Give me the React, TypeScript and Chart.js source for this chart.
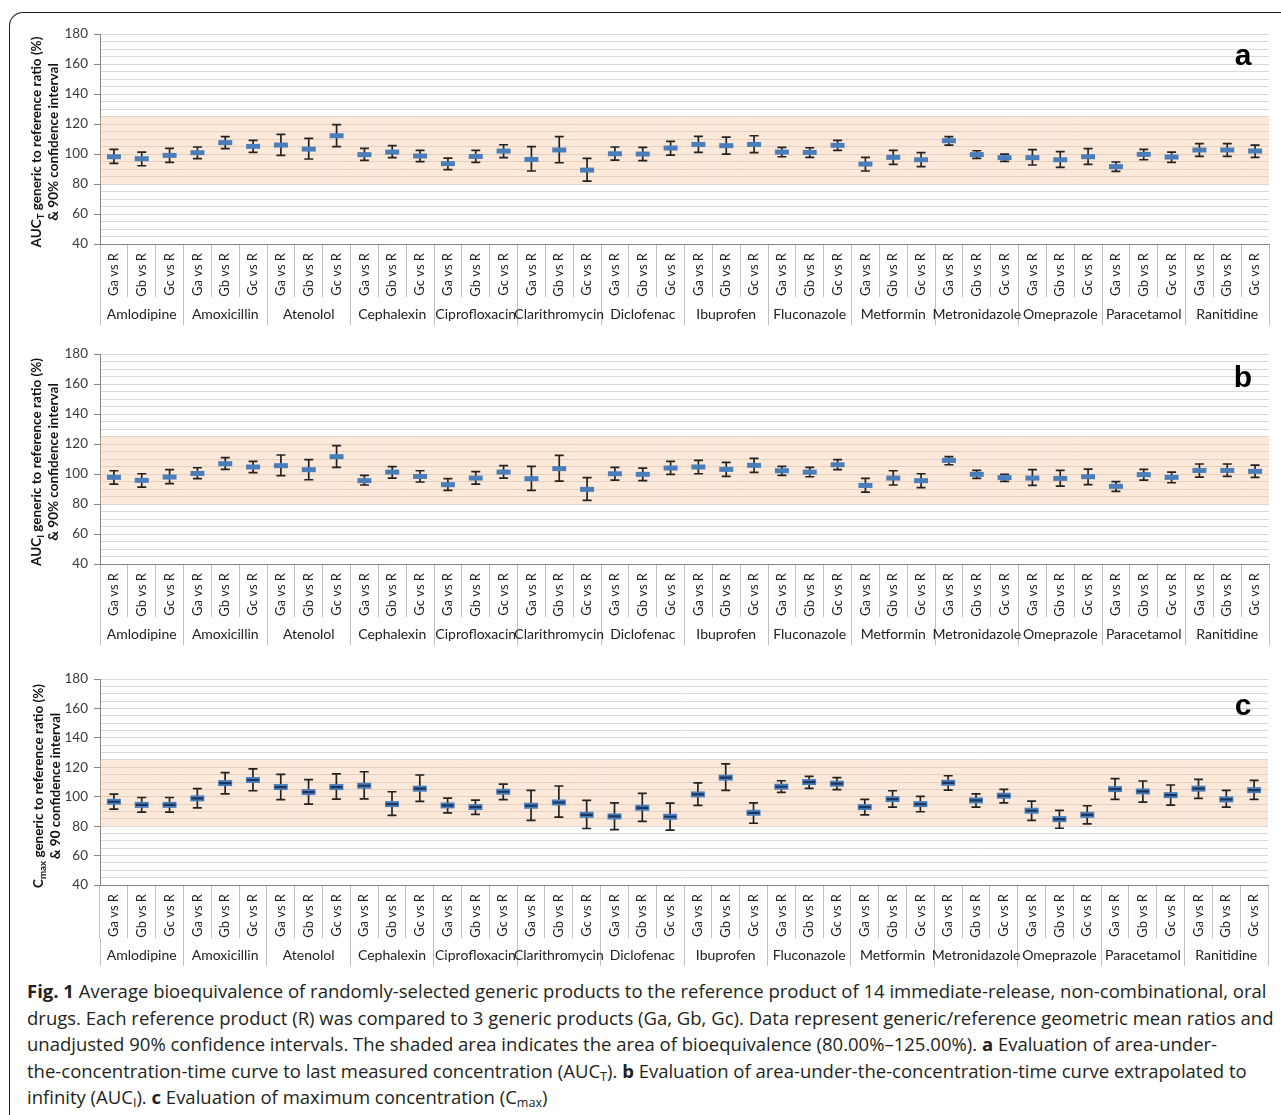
import React, { useEffect, useRef } from 'react';
import { Chart, registerables } from 'chart.js';

Chart.register(...registerables);

const drugs = [
  'Amlodipine', 'Amoxicillin', 'Atenolol', 'Cephalexin', 'Ciprofloxacin', 'Clarithromycin', 'Diclofenac',
  'Ibuprofen', 'Fluconazole', 'Metformin', 'Metronidazole', 'Omeprazole', 'Paracetamol', 'Ranitidine',
];
const comparisons = ['Ga vs R', 'Gb vs R', 'Gc vs R'];
const categoryLabels = drugs.flatMap(() => comparisons);

const bandLow = 80;
const bandHigh = 125;
const yMin = 40;
const yMax = 180;
const yStep = 5;
const yLabelStep = 20;

// Panel a: AUC_T
const meanA = [98.2, 96.9, 99.1, 100.9, 107.6, 105.1, 106.0, 103.3, 112.2, 99.6, 101.3, 98.7, 93.6, 98.4, 102.0, 96.4, 102.7, 89.3, 100.2, 100.0, 104.0, 106.4, 105.6, 106.4, 101.3, 101.1, 105.8, 93.3, 97.8, 96.2, 108.9, 99.6, 97.6, 97.6, 96.2, 98.2, 91.6, 99.8, 98.0, 102.7, 102.7, 102.0];
const lowA = [93.8, 92.2, 94.4, 96.9, 103.6, 101.1, 99.1, 96.7, 104.9, 95.8, 97.6, 94.9, 89.6, 94.4, 97.6, 88.7, 94.2, 82.0, 96.0, 95.6, 99.3, 101.1, 100.0, 100.9, 98.2, 97.8, 102.4, 88.7, 93.1, 91.6, 106.0, 97.1, 95.1, 92.7, 91.1, 93.1, 88.4, 96.2, 94.4, 98.4, 98.4, 97.8];
const highA = [103.1, 101.3, 103.8, 104.7, 111.6, 109.1, 113.1, 110.4, 119.6, 103.8, 105.6, 102.4, 97.3, 102.4, 106.2, 104.9, 111.6, 97.1, 104.7, 104.4, 108.4, 111.8, 111.3, 112.2, 104.4, 104.2, 109.1, 97.8, 102.4, 100.9, 111.6, 102.2, 100.0, 102.9, 101.6, 103.6, 94.7, 103.1, 101.3, 106.9, 106.9, 106.0];

// Panel b: AUC_I
const meanB = [97.8, 95.8, 98.0, 100.4, 106.9, 104.7, 105.6, 102.9, 111.6, 95.6, 101.3, 98.4, 92.9, 97.3, 101.3, 96.9, 103.6, 89.8, 100.2, 99.8, 104.0, 104.7, 103.1, 105.8, 102.2, 101.3, 106.2, 92.4, 97.3, 95.6, 109.1, 99.8, 97.6, 97.3, 97.1, 98.2, 91.8, 99.6, 97.8, 102.4, 102.4, 101.8];
const lowB = [93.3, 91.3, 93.6, 96.9, 103.1, 100.9, 98.9, 96.2, 104.4, 92.7, 97.3, 94.7, 89.1, 93.3, 97.3, 89.1, 95.3, 82.4, 96.0, 95.6, 99.8, 100.2, 98.4, 101.1, 99.1, 98.2, 102.9, 88.0, 92.7, 90.9, 106.2, 97.1, 95.1, 92.4, 92.0, 92.9, 88.4, 96.0, 94.2, 98.0, 98.4, 97.8];
const highB = [102.2, 100.2, 102.9, 104.2, 110.9, 108.4, 112.7, 109.6, 118.9, 99.1, 104.9, 102.2, 96.9, 101.6, 105.6, 105.1, 112.4, 97.6, 104.4, 104.0, 108.4, 109.1, 107.8, 110.4, 105.1, 104.4, 109.6, 97.1, 102.2, 100.2, 111.6, 102.4, 99.8, 102.9, 102.4, 103.3, 94.9, 103.1, 101.3, 106.7, 106.7, 106.0];

// Panel c: Cmax
const meanC = [96.6, 94.5, 94.5, 98.9, 109.3, 111.4, 106.6, 103.2, 106.6, 107.5, 95.0, 105.5, 94.1, 93.0, 103.4, 93.9, 96.1, 87.7, 86.6, 92.5, 86.4, 101.6, 113.0, 89.1, 106.8, 110.0, 108.9, 93.0, 98.4, 95.0, 109.5, 97.5, 100.7, 90.5, 84.8, 87.7, 105.2, 103.6, 101.1, 105.5, 98.2, 104.5];
const lowC = [91.6, 89.5, 89.5, 92.5, 102.0, 104.1, 98.0, 95.0, 98.4, 98.6, 87.3, 96.8, 89.1, 88.0, 98.0, 83.9, 86.1, 78.4, 77.7, 83.2, 77.3, 94.1, 104.3, 82.0, 103.0, 105.7, 104.8, 87.7, 93.0, 89.8, 104.5, 93.0, 95.9, 83.9, 78.6, 81.6, 98.2, 96.4, 94.3, 98.9, 93.0, 98.2];
const highC = [101.8, 99.5, 99.5, 105.5, 116.4, 118.9, 115.2, 111.6, 115.5, 117.0, 103.4, 114.8, 99.1, 97.7, 108.6, 104.3, 107.3, 97.5, 95.9, 102.3, 95.7, 109.5, 122.3, 95.9, 110.9, 113.9, 113.0, 98.2, 104.1, 100.2, 114.3, 102.0, 105.0, 97.0, 90.7, 93.9, 112.3, 110.7, 108.0, 111.8, 104.3, 111.1];

const FONT = 'Lato, "Open Sans", sans-serif';
const AXIS_GREY = '#868686';
const SEP_GREY = '#bfbfbf';
const GRID_GREY = '#d9d9d9';
const INK = '#222222';
const BLUE = '#4a7ebb';
const NAVY = '#1b3560';

function buildConfig(mean: number[], low: number[], high: number[], dark: boolean): any {
  const datasets: any[] = [
    {
      type: 'bar',
      label: 'band',
      data: categoryLabels.map(() => [bandLow, bandHigh]),
      backgroundColor: 'rgba(249,192,146,0.35)',
      borderWidth: 0,
      grouped: false,
      barPercentage: 1,
      categoryPercentage: 1,
      inflateAmount: 0,
      order: 6,
    },
    {
      type: 'bar',
      label: 'ci',
      data: low.map((l, i) => [l, high[i]]),
      backgroundColor: INK,
      borderWidth: 0,
      grouped: false,
      barThickness: 1.7,
      inflateAmount: 0,
      order: 5,
    },
    {
      type: 'line',
      label: 'low',
      data: low,
      showLine: false,
      pointStyle: 'line',
      pointRadius: 4.5,
      pointBorderWidth: 1.7,
      pointBorderColor: INK,
      pointBackgroundColor: INK,
      order: 4,
    },
    {
      type: 'line',
      label: 'high',
      data: high,
      showLine: false,
      pointStyle: 'line',
      pointRadius: 4.5,
      pointBorderWidth: 1.7,
      pointBorderColor: INK,
      pointBackgroundColor: INK,
      order: 3,
    },
    {
      type: 'line',
      label: 'ratio',
      data: mean,
      showLine: false,
      pointStyle: 'line',
      pointRadius: 7,
      pointBorderWidth: dark ? 6 : 5,
      pointBorderColor: BLUE,
      pointBackgroundColor: BLUE,
      order: 2,
    },
  ];
  if (dark) {
    datasets.push({
      type: 'line',
      label: 'ratio-center',
      data: mean,
      showLine: false,
      pointStyle: 'line',
      pointRadius: 6,
      pointBorderWidth: 2.2,
      pointBorderColor: NAVY,
      pointBackgroundColor: NAVY,
      order: 1,
    });
  }
  return {
    type: 'bar',
    data: { labels: categoryLabels, datasets },
    options: {
      animation: false,
      responsive: false,
      events: [],
      layout: { padding: { left: 0, right: 11, top: 14, bottom: 0 } },
      plugins: { legend: { display: false }, tooltip: { enabled: false } },
      scales: {
        x: {
          type: 'category',
          position: 'bottom',
          weight: 0,
          offset: true,
          border: { display: true, color: AXIS_GREY, width: 1 },
          grid: { display: true, drawOnChartArea: false, drawTicks: true, tickLength: 53, color: SEP_GREY, offset: true },
          ticks: {
            autoSkip: false, minRotation: 90, maxRotation: 90, padding: -44,
            color: INK, font: { family: FONT, size: 13 },
          },
          afterFit: (s: any) => { s.height = 53; },
        },
        groups: {
          type: 'category',
          labels: drugs,
          position: 'bottom',
          weight: 1,
          offset: true,
          border: { display: false },
          grid: { display: true, drawOnChartArea: false, drawTicks: true, tickLength: 28, color: SEP_GREY, offset: true },
          ticks: {
            autoSkip: false, minRotation: 0, maxRotation: 0, padding: -19,
            color: INK, font: { family: FONT, size: 14 },
          },
          afterFit: (s: any) => { s.height = 28; },
        },
        y: {
          type: 'linear',
          position: 'left',
          min: yMin,
          max: yMax,
          border: { display: true, color: AXIS_GREY, width: 1 },
          grid: {
            color: GRID_GREY,
            lineWidth: 1,
            tickLength: 6,
            tickColor: (ctx: any) => (ctx.tick && ctx.tick.value % yLabelStep === 0 ? AXIS_GREY : 'rgba(0,0,0,0)'),
          },
          ticks: {
            stepSize: yStep,
            autoSkip: false,
            padding: 6,
            color: '#3a3a3a',
            font: { family: FONT, size: 13.5 },
            callback: (v: any) => (Number(v) % yLabelStep === 0 ? String(v) : ''),
          },
          afterFit: (s: any) => { s.width = 100; },
        },
      },
    },
  };
}

type PanelProps = {
  mean: number[]; low: number[]; high: number[]; dark: boolean;
  top: number; height: number;
};

function ErrorChart({ mean, low, high, dark, top, height }: PanelProps) {
  const ref = useRef<HTMLCanvasElement | null>(null);
  useEffect(() => {
    if (!ref.current) return;
    const chart = new Chart(ref.current, buildConfig(mean, low, high, dark));
    return () => chart.destroy();
  }, [mean, low, high, dark]);
  return (
    <canvas
      ref={ref}
      width={1281}
      height={height}
      style={{ position: 'absolute', left: 0, top, width: 1281, height }}
    />
  );
}

const subStyle: React.CSSProperties = { fontSize: '0.72em', verticalAlign: '-0.3em', lineHeight: 0 };

function YTitle({ cx, cy, children }: { cx: number; cy: number; children: React.ReactNode }) {
  return (
    <div
      style={{
        position: 'absolute', left: cx, top: cy, transform: 'translate(-50%, -50%) rotate(-90deg)',
        whiteSpace: 'nowrap', textAlign: 'center', fontFamily: FONT, fontWeight: 700, fontSize: 13.5,
        lineHeight: '17px', color: '#111',
      }}
    >
      {children}
    </div>
  );
}

function Letter({ cy, text }: { cy: number; text: string }) {
  return (
    <div
      style={{
        position: 'absolute', left: 1243, top: cy, transform: 'translate(-50%, -50%)',
        fontFamily: '"Liberation Sans", Arial, sans-serif', fontWeight: 700, fontSize: 30, lineHeight: '34px', color: '#000',
      }}
    >
      {text}
    </div>
  );
}

const captionStyle: React.CSSProperties = {
  position: 'absolute', left: 27, whiteSpace: 'nowrap', fontFamily: '"Open Sans", sans-serif', fontSize: 18.5,
  lineHeight: '26.5px', color: '#231f20',
};
const capSub: React.CSSProperties = { fontSize: '0.68em', verticalAlign: '-0.25em', lineHeight: 0 };

export default function App() {
  return (
    <div style={{ position: 'absolute', left: 0, top: 0, width: 1281, height: 1115, overflow: 'hidden', background: '#fff' }}>
      <div
        style={{
          position: 'absolute', left: 9, top: 12, width: 1272, height: 1103, boxSizing: 'border-box',
          borderTop: '1.5px solid #231f20', borderLeft: '1.5px solid #231f20', borderTopLeftRadius: 14,
        }}
      />
      <ErrorChart mean={meanA} low={lowA} high={highA} dark={false} top={20} height={305} />
      <ErrorChart mean={meanB} low={lowB} high={highB} dark={false} top={340} height={305} />
      <ErrorChart mean={meanC} low={lowC} high={highC} dark={true} top={665} height={301} />

      <YTitle cx={44.5} cy={141.5}>
        <div>AUC<sub style={subStyle}>T</sub> generic to reference ratio (%)</div>
        <div>&amp; 90% confidence interval</div>
      </YTitle>
      <YTitle cx={44.5} cy={461.5}>
        <div>AUC<sub style={subStyle}>I</sub> generic to reference ratio (%)</div>
        <div>&amp; 90% confidence interval</div>
      </YTitle>
      <YTitle cx={47} cy={786}>
        <div>C<sub style={subStyle}>max</sub> generic to reference ratio (%)</div>
        <div>&amp; 90 confidence interval</div>
      </YTitle>

      <Letter cy={55} text="a" />
      <Letter cy={377} text="b" />
      <Letter cy={705} text="c" />

      <div style={{ ...captionStyle, top: 978 }}>
        <b>Fig. 1</b> Average bioequivalence of randomly-selected generic products to the reference product of 14 immediate-release, non-combinational, oral
      </div>
      <div style={{ ...captionStyle, top: 1004.5 }}>
        drugs. Each reference product (R) was compared to 3 generic products (Ga, Gb, Gc). Data represent generic/reference geometric mean ratios and
      </div>
      <div style={{ ...captionStyle, top: 1031 }}>
        unadjusted 90% confidence intervals. The shaded area indicates the area of bioequivalence (80.00%–125.00%). <b>a</b> Evaluation of area-under-
      </div>
      <div style={{ ...captionStyle, top: 1057.5 }}>
        the-concentration-time curve to last measured concentration (AUC<sub style={capSub}>T</sub>). <b>b</b> Evaluation of area-under-the-concentration-time curve extrapolated to
      </div>
      <div style={{ ...captionStyle, top: 1084 }}>
        infinity (AUC<sub style={capSub}>I</sub>). <b>c</b> Evaluation of maximum concentration (C<sub style={capSub}>max</sub>)
      </div>
    </div>
  );
}
